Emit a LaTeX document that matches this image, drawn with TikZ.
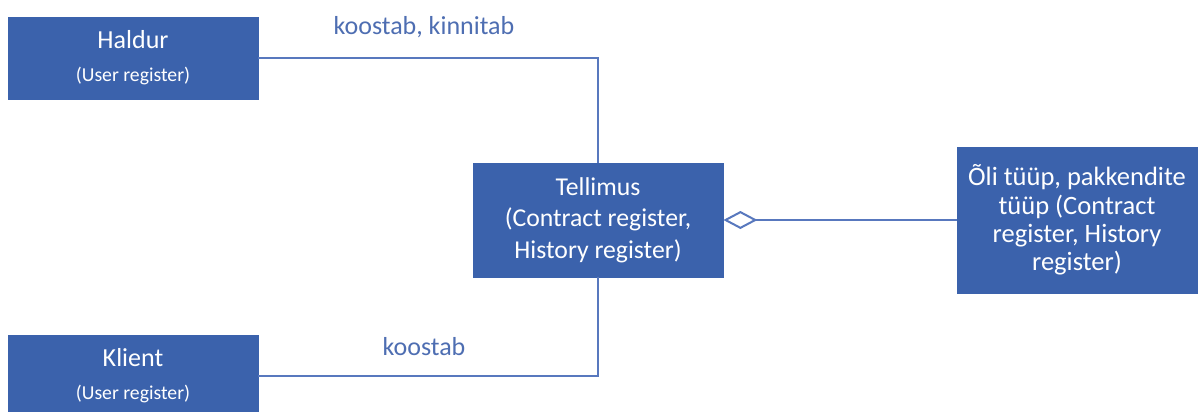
\documentclass[tikz,border=0pt]{standalone}
\usepackage{fontspec}
\setmainfont{Carlito}
\usetikzlibrary{arrows.meta}
\definecolor{boxblue}{RGB}{59,98,172}
\definecolor{linkblue}{RGB}{88,120,190}
\definecolor{labelblue}{RGB}{78,110,178}
\tikzset{
  entity/.style={draw=boxblue, fill=boxblue, text=white, align=center,
    inner sep=0pt, line width=0.8pt},
  actor/.style={entity, minimum width=250pt, minimum height=82pt,
    font=\fontsize{26}{33}\selectfont},
  link/.style={draw=linkblue, line width=2pt},
  linklabel/.style={text=labelblue, font=\fontsize{26}{31}\selectfont, inner sep=0pt}
}
\begin{document}
\begin{tikzpicture}[x=1pt,y=-1pt]
  \useasboundingbox (0,0) rectangle (1203,412);
  \clip (0,0) rectangle (1203,412);
  \fill[white] (0,0) rectangle (1203,412);

  % actors
  \node[actor] (haldur) at (133,58)
        {Haldur\\{\fontsize{19.7}{33}\selectfont (User register)}};
  \node[actor] (klient) at (133,376)
        {Klient\\{\fontsize{19.7}{33}\selectfont (User register)}};

  % order
  \node[entity, minimum width=250pt, minimum height=114pt,
        font=\fontsize{25.7}{31.5}\selectfont] (tellimus) at (598,220)
        {Tellimus\\(Contract register,\\History register)};

  % oil and packaging types
  \node[entity, minimum width=240pt, minimum height=146pt,
        font=\fontsize{26.5}{28.3}\selectfont] (tyyp) at (1077,220)
        {Õli tüüp, pakkendite\\tüüp (Contract\\register, History\\register)};

  % associations
  \draw[link] (haldur.east) -| (tellimus.north);
  \draw[link] (klient.east) -| (tellimus.south);
  \draw[link, -{Diamond[open, length=34pt, width=18pt, fill=white]}]
        (tyyp.west) -- (tellimus.east);

  % association labels
  \node[linklabel] (lblhaldur) at (424,27) {koostab, kinnitab};
  \node[linklabel] (lblklient) at (424,347) {koostab};
\end{tikzpicture}
\end{document}
